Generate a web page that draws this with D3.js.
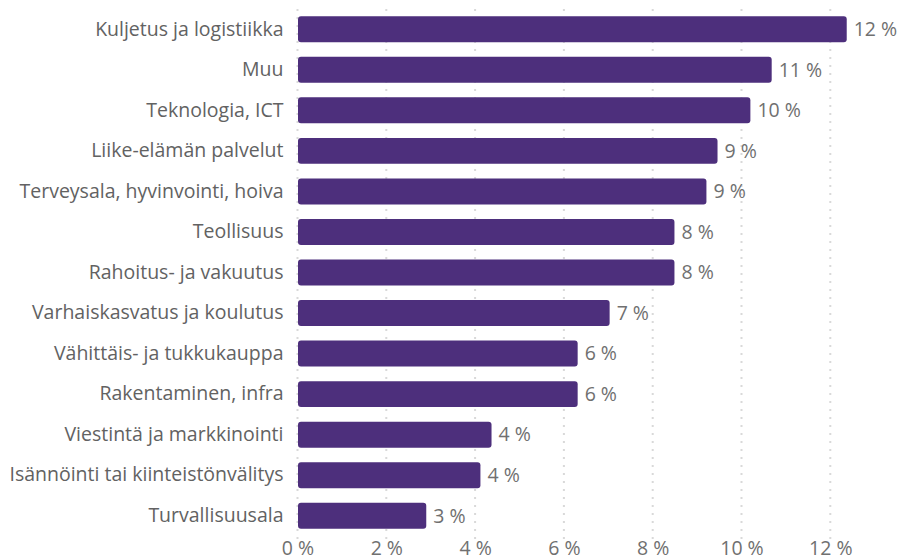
<!DOCTYPE html>
<html>
<head>
<meta charset="utf-8">
<script src="https://cdn.jsdelivr.net/npm/d3@7"></script>
<style>
  body { margin: 0; background: #fff; }
  #chart text { font-family: "Open Sans", sans-serif; }
</style>
</head>
<body>
<div id="chart"></div>
<script>
// Toimialat, osuus (%)
const categories = [
  "Kuljetus ja logistiikka",
  "Muu",
  "Teknologia, ICT",
  "Liike-elämän palvelut",
  "Terveysala, hyvinvointi, hoiva",
  "Teollisuus",
  "Rahoitus- ja vakuutus",
  "Varhaiskasvatus ja koulutus",
  "Vähittäis- ja tukkukauppa",
  "Rakentaminen, infra",
  "Viestintä ja markkinointi",
  "Isännöinti tai kiinteistönvälitys",
  "Turvallisuusala"
];
const values = [12.37, 10.68, 10.2, 9.46, 9.21, 8.49, 8.49, 7.03, 6.31, 6.31, 4.37, 4.12, 2.9];
const xTicks = [0, 2, 4, 6, 8, 10, 12];

const data = categories.map((c, i) => ({ cat: c, value: values[i] }));

const W = 901, H = 560;
const margin = { top: 9, right: 50, bottom: 24, left: 297.5 };
const width = 12 * 44.4;
const height = H - margin.top - margin.bottom;
const fs = "19.5px";

const svg = d3.select("#chart")
  .append("svg")
  .attr("width", W)
  .attr("height", H)
  .append("g")
  .attr("transform", "translate(" + margin.left + "," + margin.top + ")");

const x = d3.scaleLinear().domain([0, 12]).range([0, width]);
const y = d3.scaleBand().domain(categories).range([0, height]).paddingInner(0.36).paddingOuter(0.18);

// dotted gridlines
svg.selectAll(".grid")
  .data(xTicks)
  .enter()
  .append("line")
  .attr("class", "grid")
  .attr("x1", d => x(d)).attr("x2", d => x(d))
  .attr("y1", 0).attr("y2", height + 4)
  .attr("stroke", "#d9d9d9")
  .attr("stroke-width", 2)
  .attr("stroke-dasharray", "2,6");

// bars
svg.selectAll(".bar")
  .data(data)
  .enter()
  .append("rect")
  .attr("class", "bar")
  .attr("x", x(0) + 0.5)
  .attr("y", d => y(d.cat))
  .attr("width", d => x(d.value) - x(0) - 0.5)
  .attr("height", y.bandwidth())
  .attr("rx", 3)
  .attr("fill", "#4d2f7c");

// value labels
svg.selectAll(".val")
  .data(data)
  .enter()
  .append("text")
  .attr("x", d => x(d.value) + 7)
  .attr("y", d => y(d.cat) + y.bandwidth() / 2)
  .attr("dy", "0.35em")
  .attr("font-size", fs)
  .attr("fill", "#707070")
  .text(d => Math.round(d.value) + " %");

// category labels
const yAxis = d3.axisLeft(y).tickSize(0).tickPadding(14);
const yg = svg.append("g").call(yAxis);
yg.select(".domain").remove();
yg.selectAll("text")
  .attr("font-size", fs)
  .attr("fill", "#626262")
  .style("font-family", "'Open Sans', sans-serif");

// x axis
const xAxis = d3.axisBottom(x).tickValues(xTicks).tickSize(0).tickPadding(5).tickFormat(d => d + " %");
const xg = svg.append("g").attr("transform", "translate(0," + height + ")").call(xAxis);
xg.select(".domain").remove();
xg.selectAll("text")
  .attr("font-size", fs)
  .attr("fill", "#707070")
  .style("font-family", "'Open Sans', sans-serif");
</script>
</body>
</html>
